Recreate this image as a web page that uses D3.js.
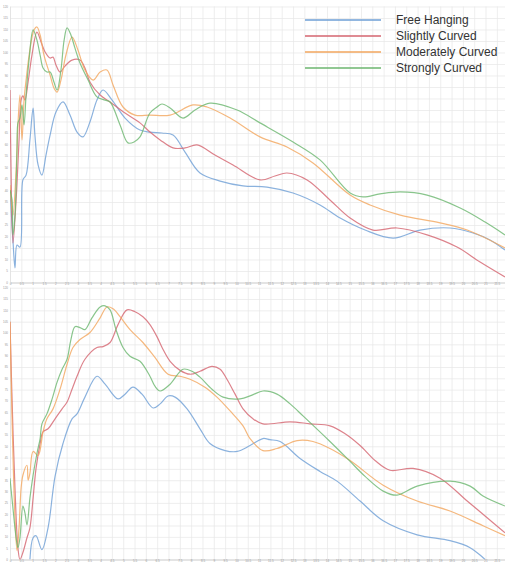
<!DOCTYPE html>
<html>
<head>
<meta charset="utf-8">
<script src="https://cdn.jsdelivr.net/npm/d3@7"></script>
<style>
  html, body { margin: 0; padding: 0; background: #fff; }
  svg { display: block; font-family: "Liberation Sans", Arial, sans-serif; }
</style>
</head>
<body>
<svg id="chart" width="505" height="563"></svg>
<script>
// Series names and colours
const seriesNames = ["Free Hanging", "Slightly Curved", "Moderately Curved", "Strongly Curved"];
const seriesColors = ["#6e9fd6", "#d4646f", "#f2a65e", "#6cb66f"];

// Axis ticks
const xTickValues = d3.range(0, 22, 0.5);
const yTickValues = d3.range(0, 125, 5);

// Upper panel: [x, value]
const topFree = [[0,40.2],[0.13,18.5],[0.22,6.3],[0.31,16.3],[0.44,15.4],[0.57,44.6],[0.71,46.7],[0.88,62.0],[1.02,75.8],[1.10,64.1],[1.24,51.1],[1.41,46.7],[1.59,55.4],[1.77,64.1],[2.03,74.1],[2.34,78.5],[2.65,72.8],[2.96,65.4],[3.22,63.3],[3.53,69.8],[3.84,79.3],[4.11,83.7],[4.51,79.3],[5.08,71.5],[5.74,66.3],[6.18,65.4],[6.71,65.0],[7.20,64.1],[7.73,56.7],[8.39,47.6],[9.28,44.1],[10.29,42.0],[11.35,41.5],[12.50,38.9],[13.69,33.7],[14.58,28.0],[15.68,22.8],[16.92,19.3],[18.11,22.8],[19.43,23.7],[20.45,21.5],[21.20,18.5],[21.86,14.1]];
const topSlight = [[0,83.7],[0.04,53.3],[0.13,17.2],[0.27,35.9],[0.40,62.0],[0.49,79.3],[0.57,81.1],[0.66,79.3],[0.80,87.2],[0.97,98.9],[1.19,108.9],[1.37,104.6],[1.55,100.2],[1.77,97.6],[1.90,98.0],[2.03,94.6],[2.21,91.5],[2.43,94.1],[2.74,96.7],[3.09,96.7],[3.31,93.3],[3.53,87.2],[3.98,81.5],[4.42,78.5],[5.08,73.7],[5.74,69.4],[6.18,65.4],[6.63,62.0],[7.20,58.5],[7.73,58.5],[8.26,59.8],[9.05,55.4],[9.85,51.1],[11.04,44.6],[11.70,46.3],[12.23,47.6],[13.12,44.6],[14.13,35.9],[15.02,28.0],[16.03,22.8],[17.09,23.7],[18.42,20.7],[19.74,15.4],[20.76,8.9],[21.86,2.4]];
const topModerate = [[0,42.4],[0.13,29.3],[0.27,48.9],[0.35,68.5],[0.44,81.5],[0.53,62.0],[0.62,79.3],[0.71,88.0],[0.88,101.1],[1.06,109.8],[1.19,111.1],[1.33,107.6],[1.50,98.9],[1.77,90.2],[1.94,84.6],[2.08,82.8],[2.25,88.0],[2.47,98.9],[2.74,106.7],[3.00,101.1],[3.31,92.4],[3.67,88.0],[3.98,91.5],[4.28,92.4],[4.55,85.9],[4.99,76.3],[5.52,72.8],[6.18,72.8],[7.07,72.8],[8.08,77.2],[8.70,76.3],[9.72,71.5],[11.04,63.3],[12.23,58.9],[13.38,52.0],[15.02,38.0],[15.90,33.7],[17.23,29.3],[18.99,25.9],[20.19,22.8],[21.86,15.0]];
const topStrong = [[0,40.2],[0.09,35.9],[0.13,20.7],[0.22,29.3],[0.31,57.6],[0.35,69.4],[0.44,71.5],[0.53,77.2],[0.62,68.5],[0.71,81.5],[0.84,96.7],[1.02,109.8],[1.19,105.4],[1.33,98.9],[1.46,93.3],[1.63,91.5],[1.77,91.5],[1.94,87.2],[2.08,83.7],[2.25,92.4],[2.39,105.4],[2.52,110.7],[2.69,107.6],[2.87,101.9],[3.09,95.4],[3.45,88.0],[3.84,80.7],[4.20,79.3],[4.42,78.5],[4.86,68.5],[5.21,60.7],[5.48,61.1],[5.74,63.3],[6.18,73.7],[6.49,76.3],[6.71,77.6],[7.07,75.9],[7.64,71.5],[8.17,75.0],[8.83,78.0],[10.03,75.0],[11.04,69.4],[12.50,61.1],[13.69,53.3],[15.02,38.9],[15.59,37.2],[16.34,38.5],[17.23,39.4],[18.42,38.0],[19.88,32.4],[20.98,26.3],[21.86,20.7]];

// Lower panel: [x, value]
const bottomFree = [[0.88,0],[1.02,9.6],[1.15,10.5],[1.41,4.4],[1.68,14.0],[1.99,36.7],[2.34,51.2],[2.74,62.1],[2.96,64.3],[3.31,71.7],[3.84,80.9],[4.20,77.4],[4.77,70.9],[5.08,73.0],[5.43,76.1],[5.83,73.0],[6.32,66.9],[6.63,68.7],[6.98,72.2],[7.29,71.7],[7.82,66.5],[8.39,57.7],[8.83,51.2],[9.50,48.1],[10.03,47.7],[10.60,50.3],[11.17,53.4],[11.48,52.9],[11.93,52.1],[12.81,44.6],[13.69,38.9],[14.44,34.6],[15.46,25.8],[16.48,17.1],[17.98,10.9],[19.43,8.3],[20.32,5.2],[20.98,0]];
const bottomSlight = [[0,105.0],[0.09,70.9],[0.22,31.5],[0.35,5.2],[0.44,0],[0.57,3.1],[0.75,9.6],[0.88,14.0],[1.02,27.1],[1.15,40.2],[1.33,51.2],[1.46,56.4],[1.68,57.7],[1.99,62.1],[2.30,66.5],[2.52,69.5],[2.74,75.2],[2.96,80.9],[3.31,88.4],[3.84,93.6],[4.11,94.0],[4.42,95.8],[4.77,103.7],[5.17,110.2],[5.52,109.4],[5.87,107.2],[6.18,103.7],[6.49,98.4],[6.76,92.7],[7.07,87.5],[7.51,83.5],[7.95,81.8],[8.39,83.1],[8.92,85.3],[9.28,84.0],[9.58,79.6],[9.94,73.0],[10.29,66.5],[10.73,62.1],[11.17,59.9],[12.37,60.8],[13.25,59.9],[14.13,59.0],[14.80,55.5],[15.46,50.3],[16.12,43.7],[16.78,39.4],[17.80,40.2],[18.99,35.9],[20.19,25.8],[20.98,19.2],[21.86,11.8]];
const bottomModerate = [[0,105.0],[0.09,62.1],[0.22,18.4],[0.31,3.9],[0.40,14.0],[0.49,31.5],[0.57,37.2],[0.75,41.6],[0.80,35.0],[0.88,38.1],[1.02,47.7],[1.24,45.9],[1.46,56.4],[1.63,62.1],[1.90,66.5],[2.21,75.2],[2.52,86.2],[2.78,93.6],[3.09,97.1],[3.53,100.2],[3.98,106.7],[4.28,111.5],[4.55,110.7],[4.86,107.2],[5.30,101.5],[5.87,95.8],[6.40,89.2],[6.98,81.8],[7.51,80.9],[7.95,79.6],[8.61,76.1],[9.14,71.7],[9.72,65.6],[10.29,59.0],[10.60,53.4],[11.17,48.1],[11.79,49.0],[12.68,52.5],[13.38,52.1],[14.13,49.0],[15.02,43.7],[16.48,32.8],[17.98,25.8],[19.43,21.4],[20.89,14.9],[21.86,10.5]];
const bottomStrong = [[0,35.9],[0.13,22.7],[0.27,9.6],[0.35,5.2],[0.44,9.6],[0.57,23.6],[0.66,20.6],[0.75,15.3],[0.88,27.1],[1.02,37.2],[1.19,46.8],[1.33,53.4],[1.41,59.9],[1.63,64.3],[1.86,70.9],[2.08,78.3],[2.30,84.0],[2.52,88.4],[2.69,97.1],[2.87,102.8],[3.09,102.4],[3.31,101.5],[3.62,106.7],[3.98,111.5],[4.20,112.0],[4.42,110.2],[4.68,101.5],[4.99,93.6],[5.30,89.7],[5.74,87.5],[6.18,80.9],[6.40,76.5],[6.63,74.4],[7.07,77.4],[7.64,84.0],[8.04,83.1],[8.39,80.5],[8.92,75.2],[9.41,71.7],[10.16,70.9],[10.69,72.6],[11.17,74.4],[11.79,73.0],[12.37,68.7],[12.94,63.4],[14.13,52.1],[15.02,43.3],[15.68,36.7],[16.48,30.2],[17.09,28.4],[17.98,32.4],[19.43,34.6],[20.32,32.4],[20.89,28.0],[21.86,23.6]];

const panels = [
  { id: "upper", series: [topFree, topSlight, topModerate, topStrong], yRange: [282.5, 6.5] },
  { id: "lower", series: [bottomFree, bottomSlight, bottomModerate, bottomStrong], yRange: [559.5, 287.7] }
];

const svg = d3.select("#chart");
const x = d3.scaleLinear().domain([0, 21.86]).range([10, 505]);

panels.forEach(p => {
  const y = d3.scaleLinear().domain([0, 120]).range(p.yRange);
  const g = svg.append("g");

  // grid
  g.append("g")
    .attr("transform", `translate(0,${p.yRange[0]})`)
    .call(d3.axisBottom(x).tickValues(xTickValues).tickSize(-(p.yRange[0] - p.yRange[1])).tickFormat(""))
    .call(a => a.select(".domain").remove())
    .call(a => a.selectAll("line").attr("stroke", "#e6e6e6").attr("stroke-width", 0.7));
  g.append("g")
    .attr("transform", "translate(10,0)")
    .call(d3.axisLeft(y).tickValues(yTickValues).tickSize(-495).tickFormat(""))
    .call(a => a.select(".domain").remove())
    .call(a => a.selectAll("line").attr("stroke", "#e6e6e6").attr("stroke-width", 0.7));

  // axes with tiny labels
  g.append("g")
    .attr("transform", `translate(0,${p.yRange[0]})`)
    .call(d3.axisBottom(x).tickValues(xTickValues).tickSize(0).tickPadding(0.5).tickFormat(d3.format("~g")))
    .call(a => a.select(".domain").attr("stroke", "#c9c9c9").attr("stroke-width", 0.8))
    .call(a => a.selectAll("text").attr("font-size", 3).attr("fill", "#999"));
  g.append("g")
    .attr("transform", "translate(10,0)")
    .call(d3.axisLeft(y).tickValues(yTickValues).tickSize(0).tickPadding(2).tickFormat(d3.format("~g")))
    .call(a => a.select(".domain").attr("stroke", "#e0e0e0").attr("stroke-width", 0.7))
    .call(a => a.selectAll("text").attr("font-size", 3).attr("fill", "#999"));

  // clip to panel
  svg.append("clipPath").attr("id", "clip-" + p.id)
    .append("rect").attr("x", 10).attr("y", p.yRange[1]).attr("width", 495).attr("height", p.yRange[0] - p.yRange[1]);

  const line = d3.line()
    .x(d => x(d[0]))
    .y(d => y(d[1]))
    .curve(d3.curveCatmullRom.alpha(0.5));

  g.append("g").attr("clip-path", `url(#clip-${p.id})`)
    .selectAll("path")
    .data(p.series)
    .join("path")
    .attr("d", line)
    .attr("fill", "none")
    .attr("stroke", (d, i) => seriesColors[i])
    .attr("stroke-opacity", 0.8)
    .attr("stroke-width", 1.2)
    .attr("stroke-linejoin", "round");
});

// legend
const legend = svg.append("g").attr("transform", "translate(305,20)");
seriesNames.forEach((name, i) => {
  const row = legend.append("g").attr("transform", `translate(0,${i * 16})`);
  row.append("line").attr("x1", 0).attr("x2", 76).attr("y1", 0).attr("y2", 0)
    .attr("stroke", seriesColors[i]).attr("stroke-width", 1.3);
  row.append("text").attr("x", 91).attr("y", 4.2)
    .attr("font-size", 12).attr("fill", "#333").text(name);
});
</script>
</body>
</html>
